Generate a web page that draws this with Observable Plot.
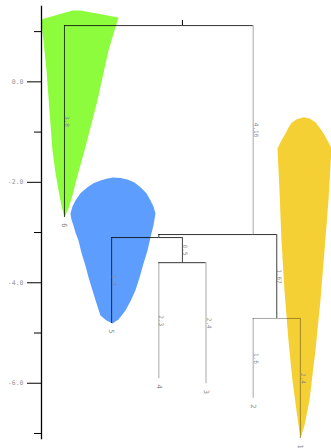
<!DOCTYPE html>
<html>
<head>
<meta charset="utf-8">
<script src="https://cdn.jsdelivr.net/npm/d3@7"></script>
<script src="https://cdn.jsdelivr.net/npm/@observablehq/plot@0.6"></script>
<style>
  html, body { margin: 0; padding: 0; background: #fff; }
  #chart svg { display: block; }
</style>
</head>
<body>
<div id="chart"></div>
<script>
// ---- tree nodes ----
const nodeIds     = ["R", "6", "D", "B", "5", "A", "4", "3", "C", "2", "1"];
const nodeX       = [2.5, 0, 4, 2, 1, 2.5, 2, 3, 4.5, 4, 5];
const nodeY       = [1.12, -2.70, -3.04, -3.10, -4.81, -3.60, -5.91, -6.01, -4.71, -6.30, -7.10];
const nodeParent  = [null, "R", "R", "D", "B", "B", "A", "A", "D", "C", "C"];
const branchText  = ["", "3.8", "4.16", "", "1.7", "0.5", "2.3", "2.4", "1.67", "1.6", "2.4"];
const leafIds     = ["6", "5", "4", "3", "2", "1"];
const rootStemTop = 1.22;

// ---- axis ticks ----
const majorTicks = [-6, -4, -2, 0];
const minorTicks = [-7, -5, -3, -1, 1];

// ---- density shapes (outline points) ----
const greenX = [0, -0.064, -0.127, -0.191, -0.254, -0.318, -0.381, -0.445, -0.50, 0.170, 0.339, 1.145, 0.933, 0.699, 0.424, 0.276, 0.170, 0.085, 0];
const greenY = [-2.70, -2.46, -2.16, -1.805, -1.37, -0.57, 0.226, 0.823, 1.24, 1.42, 1.42, 1.28, 0.624, -0.37, -1.37, -1.865, -2.26, -2.52, -2.70];

const blueX = [1.017, 0.890, 0.763, 0.678, 0.593, 0.509, 0.445, 0.360, 0.297, 0.233, 0.191, 0.148,
  0.127, 0.170, 0.233, 0.339, 0.487, 0.615, 0.763, 0.911, 1.038, 1.187, 1.335, 1.484, 1.611, 1.738, 1.823, 1.886, 1.929,
  1.886, 1.823, 1.759, 1.674, 1.590, 1.505, 1.399, 1.293, 1.145, 1.017];
const blueY = [-4.81, -4.75, -4.65, -4.41, -4.15, -3.89, -3.66, -3.40, -3.16, -3.00, -2.86, -2.74,
  -2.62, -2.48, -2.36, -2.22, -2.10, -2.02, -1.964, -1.924, -1.904, -1.914, -1.944, -2.004, -2.10, -2.22, -2.36, -2.48, -2.62,
  -2.86, -3.10, -3.36, -3.62, -3.90, -4.15, -4.37, -4.55, -4.73, -4.81];

const yellowX = [5.002, 4.917, 4.833, 4.748, 4.663, 4.600, 4.557,
  4.515, 4.599, 4.684, 4.748, 4.826, 4.938, 5.072, 5.193, 5.320, 5.405, 5.496, 5.574, 5.659,
  5.596, 5.511, 5.426, 5.32, 5.193, 5.088, 5.002];
const yellowY = [-7.10, -6.54, -5.95, -5.15, -4.15, -3.16, -2.16,
  -1.327, -1.168, -1.028, -0.909, -0.803, -0.740, -0.704, -0.730, -0.803, -0.909, -1.034, -1.168, -1.321,
  -2.36, -3.36, -4.35, -5.35, -6.34, -6.84, -7.10];

// ---- build tables ----
const byId = new Map(nodeIds.map((id, i) => [id, {id, x: nodeX[i], y: nodeY[i], parent: nodeParent[i], label: branchText[i]}]));
const branches = nodeIds.map(id => byId.get(id)).filter(n => n.parent).map(n => {
  const p = byId.get(n.parent);
  return {id: n.id, x: n.x, y: n.y, px: p.x, py: p.y, label: n.label, mid: (p.y + n.y) / 2};
});
const root = byId.get("R");
const leaves = leafIds.map(id => byId.get(id));
const shape = (xs, ys) => xs.map((x, i) => ({x, y: ys[i]}));

const lightV = new Set(["D", "4", "3", "2", "1"]);
const lightH = new Set(["2", "1"]);

const chart = Plot.plot({
  width: 331,
  height: 448,
  marginLeft: 41,
  marginRight: 0,
  marginTop: 6,
  marginBottom: 10,
  style: {fontFamily: "'DejaVu Sans Mono', monospace", background: "#fff"},
  x: {domain: [-0.487, 5.66], axis: null},
  y: {domain: [-7.1, 1.5], axis: null},
  marks: [
    Plot.line(shape(greenX, greenY), {x: "x", y: "y", fill: "#8cfc3c", stroke: "none", curve: "linear", clip: true}),
    Plot.line(shape(blueX, blueY), {x: "x", y: "y", fill: "#5d9dfd", stroke: "none", curve: "linear", clip: true}),
    Plot.line(shape(yellowX, yellowY), {x: "x", y: "y", fill: "#f5d034", stroke: "none", curve: "linear", clip: true}),
    // horizontal connectors at parent height
    Plot.ruleY(branches, {y: "py", x1: "px", x2: "x", stroke: "#000",
      strokeOpacity: d => lightH.has(d.id) ? 0.35 : 0.8}),
    // vertical branches
    Plot.ruleX(branches, {x: "x", y1: "py", y2: "y", stroke: "#000",
      strokeOpacity: d => lightV.has(d.id) ? 0.35 : 0.75}),
    // root stem
    Plot.ruleX([root], {x: "x", y1: "y", y2: () => rootStemTop, stroke: "#000"}),
    // branch length labels
    Plot.text(branches.filter(d => d.label), {x: "x", y: "mid", text: "label", rotate: 90, dx: 2.5,
      fontSize: 6, fill: "#888"}),
    // leaf labels
    Plot.text(leaves, {x: "x", y: "y", text: "id", rotate: 90, dy: 8, fontSize: 7, fill: "#888"}),
    // y axis
    Plot.axisY({ticks: majorTicks, tickSize: 14, tickPadding: 4, tickFormat: d => d.toFixed(1),
      fontSize: 6.5, fill: "#999", stroke: "#000", label: null}),
    Plot.axisY({ticks: minorTicks, tickSize: 7, tickFormat: () => "", stroke: "#000", label: null}),
    Plot.frame({anchor: "left", stroke: "#000", strokeWidth: 1.3})
  ]
});
document.getElementById("chart").appendChild(chart);
</script>
</body>
</html>
